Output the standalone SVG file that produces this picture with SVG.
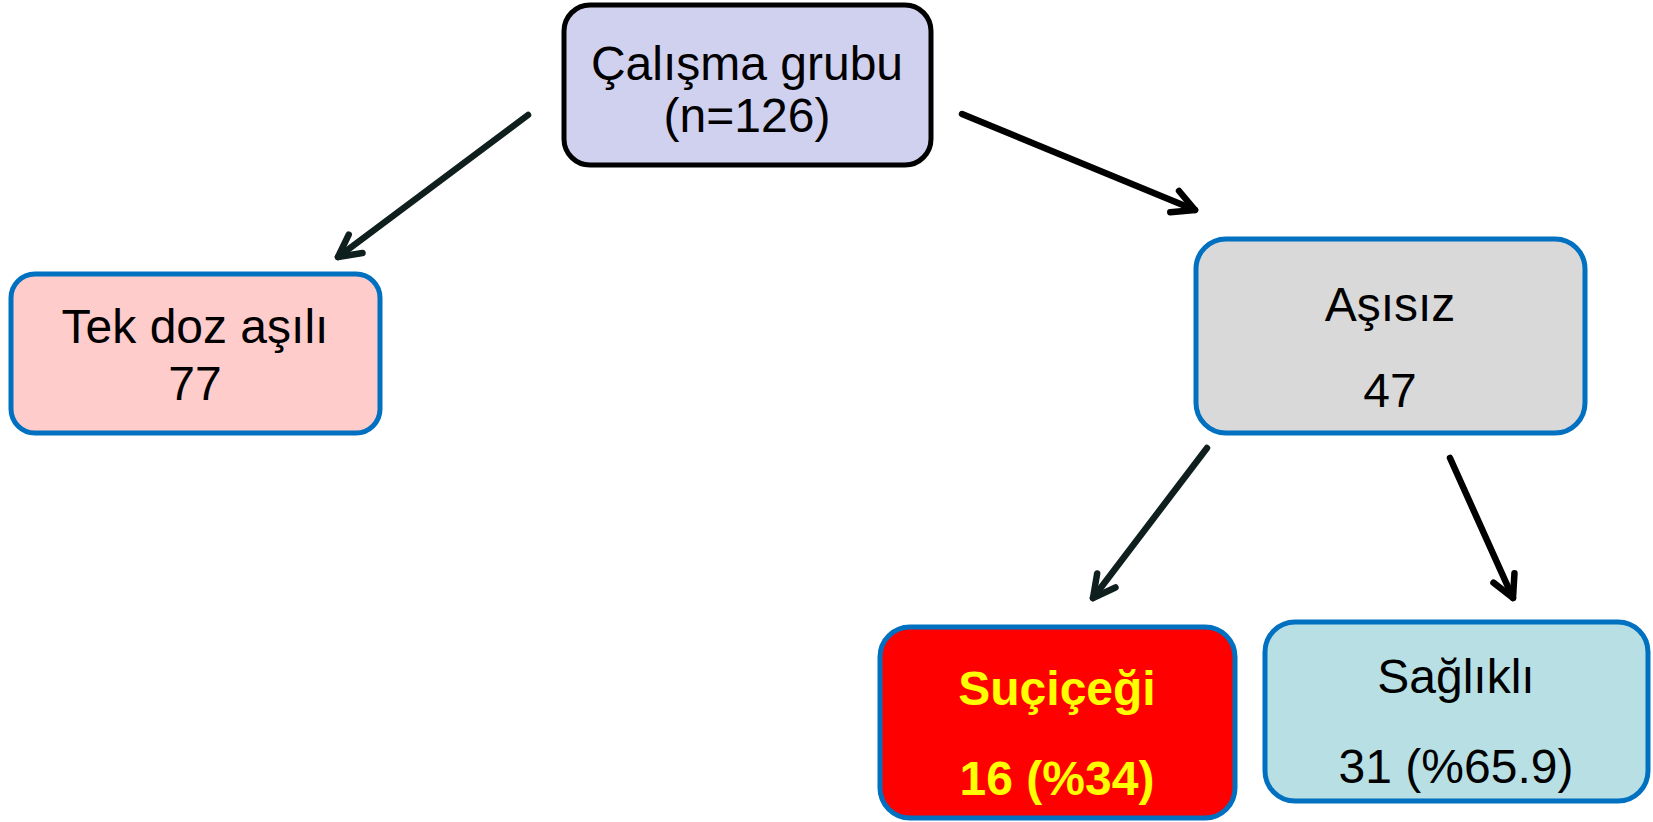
<svg xmlns="http://www.w3.org/2000/svg" width="1653" height="822" viewBox="0 0 1653 822">
<style>
.box{stroke:#0070C0;stroke-width:5}
.t{font-family:"Liberation Sans",Arial,sans-serif;font-size:48px;text-anchor:middle;fill:#000}
.b{font-weight:bold;fill:#FFFF00}
.c{fill:none;stroke-width:6.5;stroke-linecap:round;stroke-linejoin:round}
</style>
<defs>
<marker id="ahd" markerUnits="userSpaceOnUse" markerWidth="60" markerHeight="60" refX="0" refY="0" orient="auto" overflow="visible">
<path d="M-22,-11.5 L0,0 L-22,11.5" fill="none" stroke="#0F1F1E" stroke-width="6.5" stroke-linecap="round" stroke-linejoin="round"/>
</marker>
<marker id="ahk" markerUnits="userSpaceOnUse" markerWidth="60" markerHeight="60" refX="0" refY="0" orient="auto" overflow="visible">
<path d="M-22,-11.5 L0,0 L-22,11.5" fill="none" stroke="#000" stroke-width="6.5" stroke-linecap="round" stroke-linejoin="round"/>
</marker>
</defs>
<g id="connectors">
<line class="c" x1="528" y1="115" x2="338" y2="257" stroke="#0F1F1E" marker-end="url(#ahd)"/>
<line class="c" x1="962" y1="114" x2="1195" y2="210" stroke="#000" marker-end="url(#ahk)"/>
<line class="c" x1="1207" y1="448" x2="1093" y2="598" stroke="#0F1F1E" marker-end="url(#ahd)"/>
<line class="c" x1="1450" y1="458" x2="1513" y2="598" stroke="#000" marker-end="url(#ahk)"/>
</g>
<g id="calisma">
<rect x="564" y="5" width="367" height="160" rx="26" fill="#D0D0EF" stroke="#000" stroke-width="5"/>
<text class="t" x="747" y="80">Çalışma grubu</text>
<text class="t" x="747" y="132">(n=126)</text>
</g>
<g id="tekdoz">
<rect class="box" x="11" y="274" width="369" height="159" rx="24" fill="#FFCCCC"/>
<text class="t" x="195" y="343">Tek doz aşılı</text>
<text class="t" x="195" y="400">77</text>
</g>
<g id="asisiz">
<rect class="box" x="1196" y="239" width="389" height="194" rx="30" fill="#D9D9D9"/>
<text class="t" x="1390" y="321">Aşısız</text>
<text class="t" x="1390" y="407">47</text>
</g>
<g id="sucicegi">
<rect class="box" x="880" y="627" width="355" height="191" rx="30" fill="#FF0000"/>
<text class="t b" x="1057" y="705">Suçiçeği</text>
<text class="t b" x="1057" y="795">16 (%34)</text>
</g>
<g id="saglikli">
<rect class="box" x="1265" y="622" width="383" height="179" rx="30" fill="#B7DFE4"/>
<text class="t" x="1456" y="693">Sağlıklı</text>
<text class="t" x="1456" y="783">31 (%65.9)</text>
</g>
</svg>
